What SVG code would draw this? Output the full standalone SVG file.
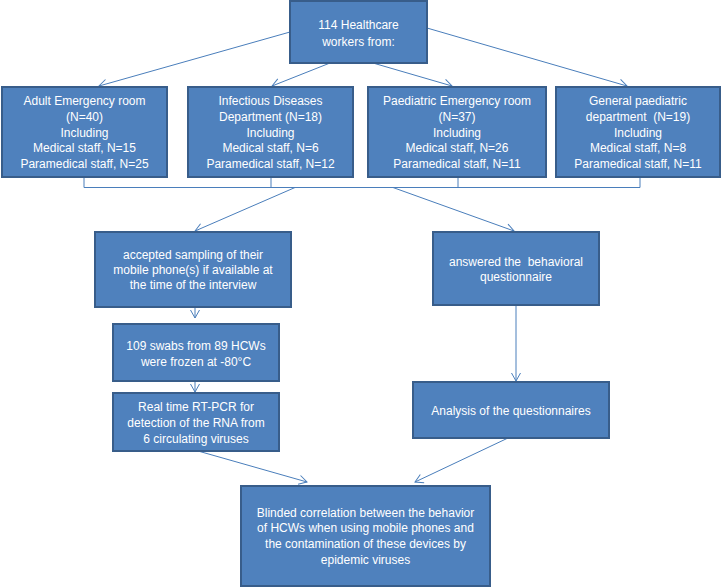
<svg xmlns="http://www.w3.org/2000/svg" width="722" height="587" viewBox="0 0 722 587">
<style>
.box{fill:#4F81BD;stroke:#385D8A;stroke-width:2}
.t{font-family:"Liberation Sans",Arial,sans-serif;font-size:12px;fill:#FFFFFF;text-anchor:middle;white-space:pre}
.c{fill:none;stroke:#4A7EBB;stroke-width:1}
.a{marker-end:url(#arr)}
</style>
<defs>
<marker id="arr" viewBox="-10 -6 12 12" refX="0" refY="0" markerWidth="12" markerHeight="12" markerUnits="userSpaceOnUse" orient="auto">
<path d="M-8,-4.5 L0,0 L-8,4.5" fill="none" stroke="#4A7EBB" stroke-width="1"/>
</marker>
</defs>
<rect width="722" height="587" fill="#FFFFFF"/>
<g id="connectors">
<line class="c a" x1="290" y1="32" x2="99" y2="86"/>
<line class="c a" x1="330" y1="63" x2="272" y2="86"/>
<line class="c a" x1="373" y1="63" x2="452" y2="86"/>
<line class="c a" x1="427" y1="28" x2="627" y2="86"/>
<path class="c" d="M84,177 V187.5 H640 V177 M271,177 V187.5 M458,177 V187.5"/>
<line class="c a" x1="295" y1="187.5" x2="195" y2="231"/>
<line class="c a" x1="393" y1="187.5" x2="514" y2="231"/>
<line class="c a" x1="195" y1="307" x2="195" y2="318"/>
<line class="c a" x1="195" y1="381" x2="195" y2="392"/>
<line class="c a" x1="198" y1="451" x2="307" y2="482"/>
<line class="c a" x1="516" y1="305" x2="516" y2="381"/>
<line class="c a" x1="508" y1="438" x2="415" y2="482"/>
</g>
<g id="n-top">
<rect class="box" x="290" y="1" width="137" height="62"/>
<text class="t" x="358.5" y="29">114 Healthcare</text>
<text class="t" x="358.5" y="46">workers from:</text>
</g>
<g id="n-adult">
<rect class="box" x="2" y="87" width="165" height="90"/>
<text class="t" x="84.5" y="105">Adult Emergency room</text>
<text class="t" x="84.5" y="121">(N=40)</text>
<text class="t" x="84.5" y="137">Including</text>
<text class="t" x="84.5" y="152">Medical staff, N=15</text>
<text class="t" x="84.5" y="168">Paramedical staff, N=25</text>
</g>
<g id="n-infectious">
<rect class="box" x="188" y="87" width="165" height="90"/>
<text class="t" x="270.5" y="105">Infectious Diseases</text>
<text class="t" x="270.5" y="121">Department (N=18)</text>
<text class="t" x="270.5" y="137">Including</text>
<text class="t" x="270.5" y="152">Medical staff, N=6</text>
<text class="t" x="270.5" y="168">Paramedical staff, N=12</text>
</g>
<g id="n-paed-er">
<rect class="box" x="368" y="87" width="178" height="90"/>
<text class="t" x="457" y="105">Paediatric Emergency room</text>
<text class="t" x="457" y="121">(N=37)</text>
<text class="t" x="457" y="137">Including</text>
<text class="t" x="457" y="152">Medical staff, N=26</text>
<text class="t" x="457" y="168">Paramedical staff, N=11</text>
</g>
<g id="n-general">
<rect class="box" x="556" y="87" width="164" height="90"/>
<text class="t" x="638" y="105">General paediatric</text>
<text class="t" x="638" y="121">department  (N=19)</text>
<text class="t" x="638" y="137">Including</text>
<text class="t" x="638" y="152">Medical staff, N=8</text>
<text class="t" x="638" y="168">Paramedical staff, N=11</text>
</g>
<g id="n-accepted">
<rect class="box" x="95" y="232" width="196" height="75"/>
<text class="t" x="193" y="259">accepted sampling of their</text>
<text class="t" x="193" y="274">mobile phone(s) if available at</text>
<text class="t" x="193" y="289">the time of the interview</text>
</g>
<g id="n-answered">
<rect class="box" x="433" y="232" width="166" height="73"/>
<text class="t" x="516" y="266">answered the  behavioral</text>
<text class="t" x="516" y="281">questionnaire</text>
</g>
<g id="n-swabs">
<rect class="box" x="113" y="324" width="166" height="57"/>
<text class="t" x="196" y="350">109 swabs from 89 HCWs</text>
<text class="t" x="196" y="366">were frozen at -80°C</text>
</g>
<g id="n-pcr">
<rect class="box" x="113" y="393" width="166" height="58"/>
<text class="t" x="196" y="411">Real time RT-PCR for</text>
<text class="t" x="196" y="427">detection of the RNA from</text>
<text class="t" x="196" y="443">6 circulating viruses</text>
</g>
<g id="n-analysis">
<rect class="box" x="413" y="382" width="196" height="56"/>
<text class="t" x="511" y="415">Analysis of the questionnaires</text>
</g>
<g id="n-blinded">
<rect class="box" x="241" y="486" width="249" height="100"/>
<text class="t" x="365.5" y="517">Blinded correlation between the behavior</text>
<text class="t" x="365.5" y="532">of HCWs when using mobile phones and</text>
<text class="t" x="365.5" y="548">the contamination of these devices by</text>
<text class="t" x="365.5" y="564">epidemic viruses</text>
</g>
</svg>
